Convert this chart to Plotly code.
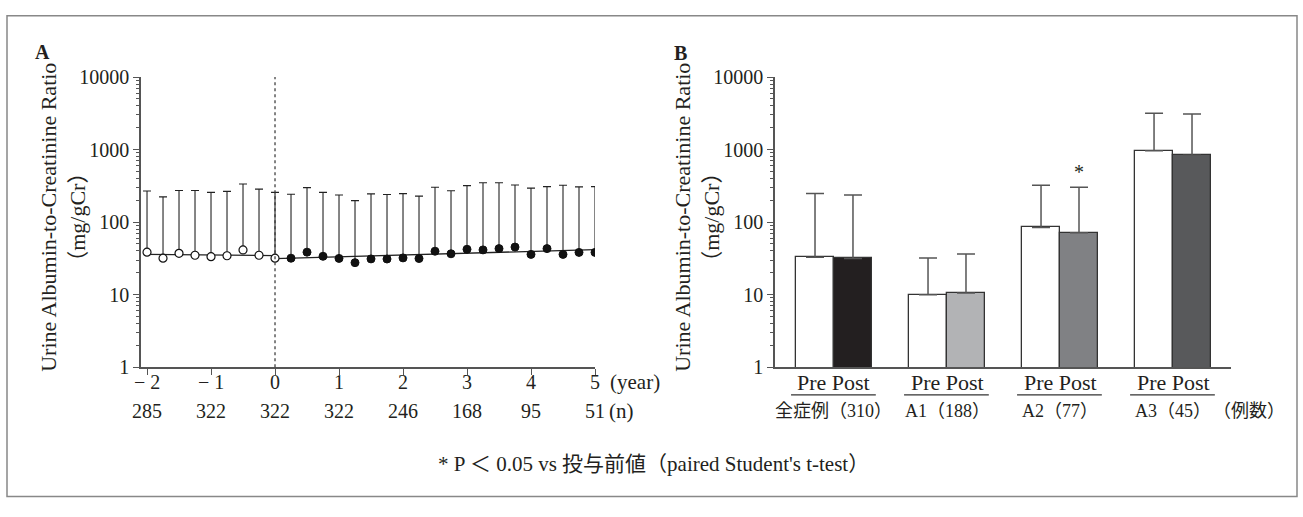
import math
import plotly.graph_objects as go

W, H = 1303, 517
def px(x): return x / W
def py(y): return (H - y) / H

# ---------------- Panel A data ----------------
pre_years = [-2, -1.75, -1.5, -1.25, -1, -0.75, -0.5, -0.25, 0]
pre_mean = [38.5, 31.8, 37.1, 34.9, 33.4, 34.4, 41.3, 34.9, 31.8]
pre_upper = [268, 223, 273, 273, 257, 265, 335, 285, 257]

post_years = [0.25, 0.5, 0.75, 1, 1.25, 1.5, 1.75, 2, 2.25, 2.5, 2.75, 3, 3.25,
              3.5, 3.75, 4, 4.25, 4.5, 4.75, 5]
post_mean = [31.8, 38.5, 33.8, 31.6, 27.6, 31.1, 31.0, 32.1, 31.5, 39.7, 36.6,
             42.2, 41.4, 43.1, 45.3, 35.9, 43.1, 35.9, 38.2, 38.2]
post_upper = [242, 299, 257, 237, 198, 245, 240, 247, 228, 303, 271, 318, 349,
              349, 325, 294, 309, 322, 306, 309]

trend_pre_x = [-2, 0]
trend_pre_y = [35.8, 34.6]
trend_post_x = [0, 5]
trend_post_y = [31.4, 41.8]

year_ticks = [-2, -1, 0, 1, 2, 3, 4, 5]
year_labels = ["− 2", "− 1", "0", "1", "2", "3", "4", "5"]
n_counts = ["285", "322", "322", "322", "246", "168", "95", "51"]

# ---------------- Panel B data ----------------
groups = ["全症例（310）", "A1（188）", "A2（77）", "A3（45）"]
pre_vals = [32.8, 10.0, 84.3, 964]
post_vals = [31.5, 10.5, 71.5, 835]
pre_sd_upper = [249, 32.1, 322, 3162]
post_sd_upper = [237, 36.3, 303, 3097]
post_colors = ["#231f20", "#b2b3b5", "#808184", "#58595b"]
sig_flags = [False, False, True, False]

FONT = "Liberation Serif, Times New Roman, Noto Sans CJK JP, serif"
TXT = "#231f20"
AX = "#555555"

fig = go.Figure()

# Panel A
for tx, ty in [(trend_pre_x, trend_pre_y), (trend_post_x, trend_post_y)]:
    fig.add_trace(go.Scatter(x=tx, y=ty, mode="lines",
                             line=dict(color="#222", width=1.3), xaxis="x", yaxis="y",
                             showlegend=False, hoverinfo="skip"))
fig.add_trace(go.Scatter(
    x=pre_years, y=pre_mean, mode="markers", xaxis="x", yaxis="y",
    marker=dict(symbol="circle", size=8, color="white", line=dict(color="#111", width=1.2)),
    error_y=dict(type="data", symmetric=False,
                 array=[u - m for u, m in zip(pre_upper, pre_mean)],
                 arrayminus=[0] * len(pre_mean),
                 color="#222", thickness=1.1, width=4),
    showlegend=False))
fig.add_trace(go.Scatter(
    x=post_years, y=post_mean, mode="markers", xaxis="x", yaxis="y",
    marker=dict(symbol="circle", size=8, color="#111", line=dict(color="#111", width=1)),
    error_y=dict(type="data", symmetric=False,
                 array=[u - m for u, m in zip(post_upper, post_mean)],
                 arrayminus=[0] * len(post_mean),
                 color="#222", thickness=1.1, width=4),
    showlegend=False))

# Panel B
bw = 0.336
xs_pre = [i - bw / 2 for i in range(len(groups))]
xs_post = [i + bw / 2 for i in range(len(groups))]
fig.add_trace(go.Bar(
    x=xs_pre, y=pre_vals, width=bw, xaxis="x2", yaxis="y2",
    marker=dict(color="white", line=dict(color="#333", width=1.3)),
    error_y=dict(type="data", symmetric=False,
                 array=[u - m for u, m in zip(pre_sd_upper, pre_vals)],
                 arrayminus=[0] * 4, color="#555", thickness=1.5, width=9),
    showlegend=False))
fig.add_trace(go.Bar(
    x=xs_post, y=post_vals, width=bw, xaxis="x2", yaxis="y2",
    marker=dict(color=post_colors, line=dict(color="#333", width=1.3)),
    error_y=dict(type="data", symmetric=False,
                 array=[u - m for u, m in zip(post_sd_upper, post_vals)],
                 arrayminus=[0] * 4, color="#555", thickness=1.5, width=9),
    showlegend=False))

tickfont = dict(family=FONT, size=20, color=TXT)
yax_common = dict(type="log", range=[0, 4], tickvals=[1, 10, 100, 1000, 10000],
                  ticktext=["1", "10", "100", "1000", "10000"],
                  ticks="outside", ticklen=6, tickwidth=1.3, tickcolor=AX,
                  showline=True, linecolor=AX, linewidth=1.5, showgrid=False,
                  zeroline=False, tickfont=tickfont,
                  minor=dict(ticks="outside", ticklen=3, tickwidth=1, tickcolor=AX,
                             dtick="D1", showgrid=False))

fig.update_layout(
    width=W, height=H, margin=dict(l=0, r=0, t=0, b=0, pad=0),
    paper_bgcolor="white", plot_bgcolor="white", bargap=0,
    font=dict(family=FONT, color=TXT),
    xaxis=dict(domain=[px(141), px(595)], range=[-2.094, 5], tickvals=year_ticks,
               showticklabels=False, ticks="outside", ticklen=6, tickwidth=1.3,
               tickcolor=AX, showline=True, linecolor=AX, linewidth=1.5,
               showgrid=False, zeroline=False, anchor="y"),
    yaxis=dict(domain=[py(372), py(69)], anchor="x", **yax_common),
    xaxis2=dict(domain=[px(775), px(1231)], range=[-0.522, 3.513], showticklabels=False,
                ticks="", showline=True, linecolor=AX, linewidth=1.5, showgrid=False,
                zeroline=False, anchor="y2"),
    yaxis2=dict(domain=[py(372), py(69)], anchor="x2", **yax_common),
)

shapes = []
shapes.append(dict(type="rect", xref="paper", yref="paper", x0=px(7), x1=px(1297),
                   y0=py(507), y1=py(5), line=dict(color="#888", width=1.5)))
shapes.append(dict(type="line", xref="x", yref="y domain", x0=0, x1=0, y0=0, y1=1,
                   line=dict(color="#333", width=1.2, dash="dot")))
for i in range(len(groups)):
    shapes.append(dict(type="line", xref="x2", yref="paper", x0=i - 0.38, x1=i + 0.37,
                       y0=py(401), y1=py(401), line=dict(color="#333", width=1.2)))

ann = []
def A(text, x, y, xref="paper", yref="paper", size=20, xanchor="center",
      yanchor="middle", **kw):
    ann.append(dict(text=text, x=x, y=y, xref=xref, yref=yref, showarrow=False,
                    xanchor=xanchor, yanchor=yanchor,
                    font=dict(family=FONT, size=size, color=TXT), **kw))

A("<b>A</b>", px(43), py(43))
A("<b>B</b>", px(680), py(44))
ytitle = "Urine Albumin-to-Creatinine Ratio<br>（mg/gCr）"
A(ytitle, px(63), py(216), size=22, textangle=-90)
A(ytitle, px(697), py(216), size=22, textangle=-90)
# year tick labels and counts
for xv, lab, n in zip(year_ticks, year_labels, n_counts):
    A(lab, xv, py(388), xref="x")
    A(n, xv, py(418), xref="x")
A("(year)", 5, py(388), xref="x", xanchor="left", xshift=13, size=21)
A("(n)", 5, py(418), xref="x", xanchor="left", xshift=12, size=21)
# Panel B category labels
for i, g in enumerate(groups):
    A("Pre Post", i, py(388), xref="x2", size=22)
    A(g, i, py(418), xref="x2", size=18)
A("（例数）", 3, py(418), xref="x2", xanchor="left", xshift=38, size=18)
for i, s in enumerate(sig_flags):
    if s:
        A("*", xs_post[i], math.log10(post_sd_upper[i]), xref="x2", yref="y2",
          yanchor="bottom", yshift=2)
A("* P ＜ 0.05 vs 投与前値（paired Student's t-test）", px(653), py(473), size=21)

fig.update_layout(shapes=shapes, annotations=ann)
fig.write_html("out.html")
